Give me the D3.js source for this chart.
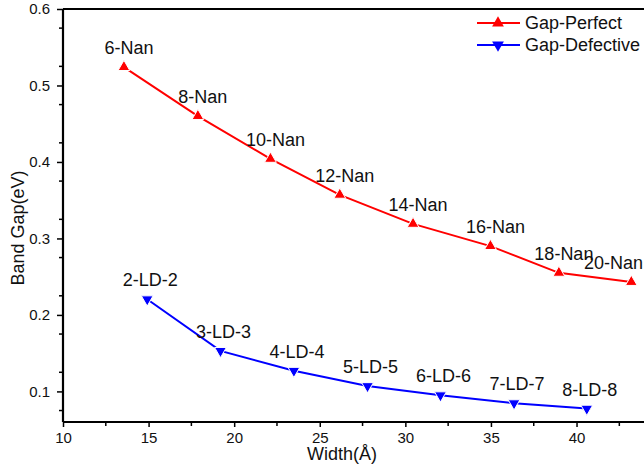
<!DOCTYPE html>
<html lang="en">
<head>
    <meta charset="UTF-8">
    <title>Band Gap vs Width</title>
    <script src="https://d3js.org/d3.v7.min.js"></script>
    <style>
        body { margin: 0; background: #fff; font-family: Arial, "Liberation Sans", sans-serif; }
        svg text { fill: #111; }
    </style>
</head>
<body>
<svg width="644" height="465"></svg>
<script>
    // data
    const perfectLabels = ["6-Nan", "8-Nan", "10-Nan", "12-Nan", "14-Nan", "16-Nan", "18-Nan", "20-Nan"];
    const perfectWidth = [13.56, 17.88, 22.12, 26.17, 30.45, 34.97, 38.97, 43.2];
    const perfectGap = [0.524, 0.460, 0.404, 0.357, 0.319, 0.290, 0.255, 0.243];

    const defectLabels = ["2-LD-2", "3-LD-3", "4-LD-4", "5-LD-5", "6-LD-6", "7-LD-7", "8-LD-8"];
    const defectWidth = [14.92, 19.2, 23.49, 27.79, 32.05, 36.35, 40.6];
    const defectGap = [0.2205, 0.153, 0.127, 0.107, 0.095, 0.0846, 0.0775];

    const xTicks = [10, 15, 20, 25, 30, 35, 40];
    const yTicks = [0.1, 0.2, 0.3, 0.4, 0.5, 0.6];

    const svg = d3.select("svg");
    const W = +svg.attr("width");

    const x = d3.scaleLinear().domain([10, 44]).range([63, 645]);
    const y = d3.scaleLinear().domain([0.06, 0.6]).range([422, 9]);

    // minor ticks
    const xMinor = d3.range(12.5, 44, 5);
    const yMinor = d3.range(0.075, 0.6, 0.05);

    const xAxis = svg.append("g").attr("transform", "translate(0,422)");
    xAxis.call(d3.axisBottom(x).tickValues(xTicks).tickSize(5).tickPadding(5).tickFormat(d3.format("d")));
    xAxis.selectAll("line.minor").data(xMinor).enter().append("line")
        .attr("class", "minor")
        .attr("x1", d => x(d)).attr("x2", d => x(d))
        .attr("y1", 0).attr("y2", 4)
        .attr("stroke", "#000").attr("stroke-width", 1.5);

    const yAxis = svg.append("g").attr("transform", "translate(63,0)");
    yAxis.call(d3.axisLeft(y).tickValues(yTicks).tickSize(6).tickPadding(7).tickFormat(d3.format(".1f")));
    yAxis.selectAll("line.minor").data(yMinor).enter().append("line")
        .attr("class", "minor")
        .attr("x1", -4).attr("x2", 0)
        .attr("y1", d => y(d)).attr("y2", d => y(d))
        .attr("stroke", "#000").attr("stroke-width", 1.5);

    [xAxis, yAxis].forEach(a => {
        a.select(".domain").attr("stroke", "#000").attr("stroke-width", 2.2);
        a.selectAll(".tick line").attr("stroke", "#000").attr("stroke-width", 1.5);
        a.selectAll(".tick text").attr("font-size", "15px").attr("font-family", "Arial, 'Liberation Sans', sans-serif").attr("fill", "#111");
    });
    yAxis.select(".domain").attr("d", `M0,${y(0.6)}V${y(0.06)}`);
    xAxis.select(".domain").attr("d", `M${x(10)},0H${x(44)}`);

    // top frame line
    svg.append("line")
        .attr("x1", x(10)).attr("x2", x(44))
        .attr("y1", y(0.6)).attr("y2", y(0.6))
        .attr("stroke", "#000").attr("stroke-width", 2.2);

    // axis titles
    svg.append("text")
        .attr("x", 342).attr("y", 460)
        .attr("text-anchor", "middle")
        .attr("font-size", "18px")
        .text("Width(Å)");

    svg.append("text")
        .attr("transform", "translate(24,228) rotate(-90)")
        .attr("text-anchor", "middle")
        .attr("font-size", "18px")
        .text("Band Gap(eV)");

    const series = [
        { name: "Gap-Perfect", color: "#ff0000", labels: perfectLabels, xs: perfectWidth, ys: perfectGap, rot: 0, dx: 5 },
        { name: "Gap-Defective", color: "#0000ff", labels: defectLabels, xs: defectWidth, ys: defectGap, rot: 180, dx: 3 }
    ];

    const line = d3.line().x(d => x(d[0])).y(d => y(d[1]));
    const marker = d3.symbol().type(d3.symbolTriangle).size(60);

    series.forEach(s => {
        const pts = s.xs.map((v, i) => [v, s.ys[i], s.labels[i]]);
        svg.append("path")
            .datum(pts)
            .attr("d", line)
            .attr("fill", "none")
            .attr("stroke", s.color)
            .attr("stroke-width", 2);

        svg.selectAll(null)
            .data(pts)
            .enter().append("path")
            .attr("d", marker)
            .attr("transform", d => `translate(${x(d[0])},${y(d[1])}) rotate(${s.rot})`)
            .attr("fill", s.color)
            .attr("stroke", "#fff")
            .attr("stroke-width", 1);

        svg.selectAll(null)
            .data(pts)
            .enter().append("text")
            .attr("x", d => x(d[0]) + s.dx)
            .attr("y", d => y(d[1]) - 13)
            .attr("text-anchor", "middle")
            .attr("font-size", "18px")
            .text(d => d[2])
            // keep labels inside the window
            .each(function () {
                const b = this.getBBox();
                if (b.x + b.width > W - 1) {
                    d3.select(this).attr("x", +d3.select(this).attr("x") - (b.x + b.width - (W - 1)));
                }
            });
    });

    // legend
    const legend = svg.append("g");
    series.forEach((s, i) => {
        const ly = 23 + i * 22;
        legend.append("line")
            .attr("x1", 477).attr("x2", 520)
            .attr("y1", ly).attr("y2", ly)
            .attr("stroke", s.color).attr("stroke-width", 2);
        legend.append("path")
            .attr("d", marker)
            .attr("transform", `translate(498,${ly}) rotate(${s.rot})`)
            .attr("fill", s.color);
        legend.append("text")
            .attr("x", 525).attr("y", ly + 6)
            .attr("font-size", "18px")
            .text(s.name);
    });
</script>
</body>
</html>
